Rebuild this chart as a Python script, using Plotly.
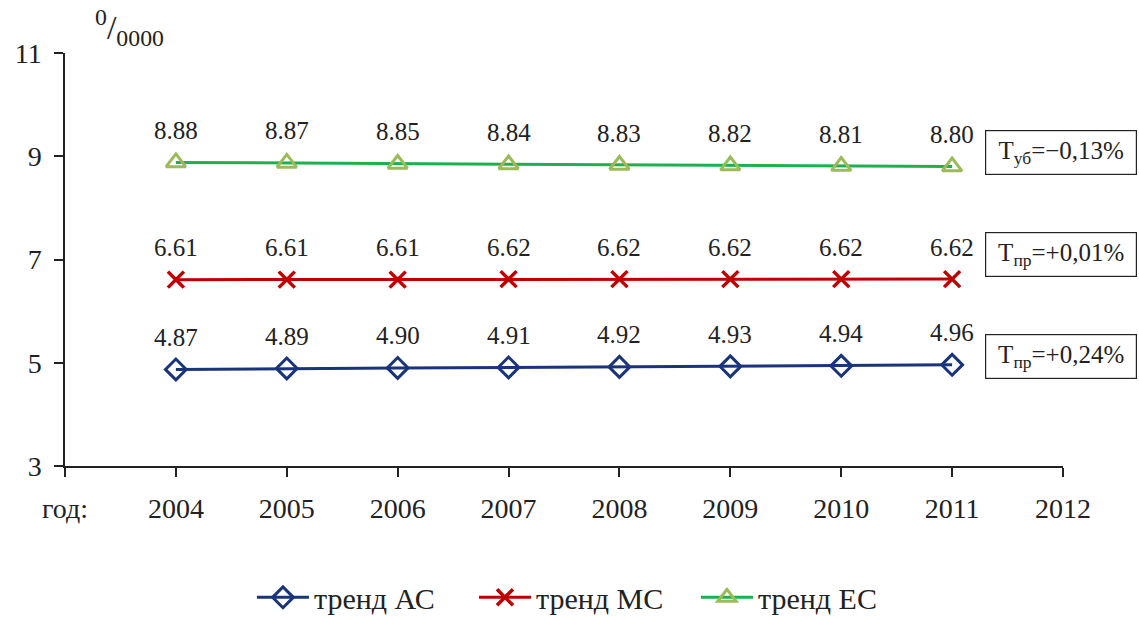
import plotly.graph_objects as go

tick_labels = ["год:", "2004", "2005", "2006", "2007", "2008", "2009", "2010", "2011", "2012"]
years_pos = [1, 2, 3, 4, 5, 6, 7, 8]
ac = [4.87, 4.89, 4.90, 4.91, 4.92, 4.93, 4.94, 4.96]
mc = [6.61, 6.61, 6.61, 6.62, 6.62, 6.62, 6.62, 6.62]
ec = [8.88, 8.87, 8.85, 8.84, 8.83, 8.82, 8.81, 8.80]
box_texts = ["T<sub>уб</sub>=−0,13%", "T<sub>пр</sub>=+0,01%", "T<sub>пр</sub>=+0,24%"]
box_levels = [0.758, 0.511, 0.264]

FONT = "Times New Roman, Liberation Serif, DejaVu Serif, serif"

fig = go.Figure()
fig.add_trace(go.Scatter(x=years_pos, y=ac, mode="lines+markers", name="тренд АС",
                         line=dict(color="#1A347C", width=3),
                         marker=dict(symbol="diamond-open", size=16, color="#1A347C", line=dict(width=3))))
fig.add_trace(go.Scatter(x=years_pos, y=mc, mode="lines+markers", name="тренд МС",
                         line=dict(color="#C00000", width=3),
                         marker=dict(symbol="x-thin-open", size=16, color="#C00000", line=dict(width=3.5, color="#C00000"))))
fig.add_trace(go.Scatter(x=years_pos, y=ec, mode="lines+markers", name="тренд ЕС",
                         line=dict(color="#1DB04E", width=3),
                         marker=dict(symbol="triangle-up-open", size=17, color="#9BBB59", line=dict(width=3))))

annotations = []
for series in (ac, mc, ec):
    for xv, yv in zip(years_pos, series):
        annotations.append(dict(x=xv, y=yv, xref="x", yref="y", text=f"{yv:.2f}",
                                showarrow=False, yshift=32,
                                font=dict(family=FONT, size=25, color="#222")))
for txt, yl in zip(box_texts, box_levels):
    annotations.append(dict(x=0.922, y=yl, xref="paper", yref="paper", xanchor="left", yanchor="middle",
                            text=txt, showarrow=False, align="center", width=144, height=37,
                            bordercolor="#222", borderwidth=1.2, borderpad=3, bgcolor="white",
                            font=dict(family=FONT, size=25, color="#222")))
annotations.append(dict(x=0.028, y=1.0, xref="paper", yref="paper", xanchor="left", yanchor="bottom",
                        text="<sup>0</sup>/<sub>0000</sub>", showarrow=False,
                        font=dict(family=FONT, size=34, color="#222")))

fig.update_layout(
    width=1139, height=620,
    margin=dict(l=65, r=76, t=53, b=154, autoexpand=False),
    plot_bgcolor="white", paper_bgcolor="white",
    font=dict(family=FONT, size=28, color="#222"),
    showlegend=True,
    legend=dict(orientation="h", x=0.521, y=-0.318, xanchor="center", yanchor="middle",
                font=dict(family=FONT, size=30, color="#222"), itemwidth=52,
                entrywidth=155, entrywidthmode="pixels"),
    annotations=annotations,
)
fig.update_xaxes(range=[0, 9], tickmode="array", tickvals=list(range(10)), ticktext=tick_labels,
                 showline=True, linecolor="#222", linewidth=1.5, ticks="outside", ticklen=9,
                 tickcolor="#222", tickwidth=1.5, showgrid=False, zeroline=False,
                 ticklabelstandoff=8,
                 tickfont=dict(family=FONT, size=28, color="#222"))
fig.update_yaxes(range=[3, 11], tickmode="array", tickvals=[3, 5, 7, 9, 11],
                 showline=True, linecolor="#222", linewidth=1.5, ticks="outside", ticklen=9,
                 tickcolor="#222", tickwidth=1.5, showgrid=False, zeroline=False,
                 ticklabelstandoff=7,
                 tickfont=dict(family=FONT, size=28, color="#222"))

fig.write_html("out.html", config={"displayModeBar": False},
               post_script="document.body.style.margin='0';document.body.style.overflow='hidden';")
